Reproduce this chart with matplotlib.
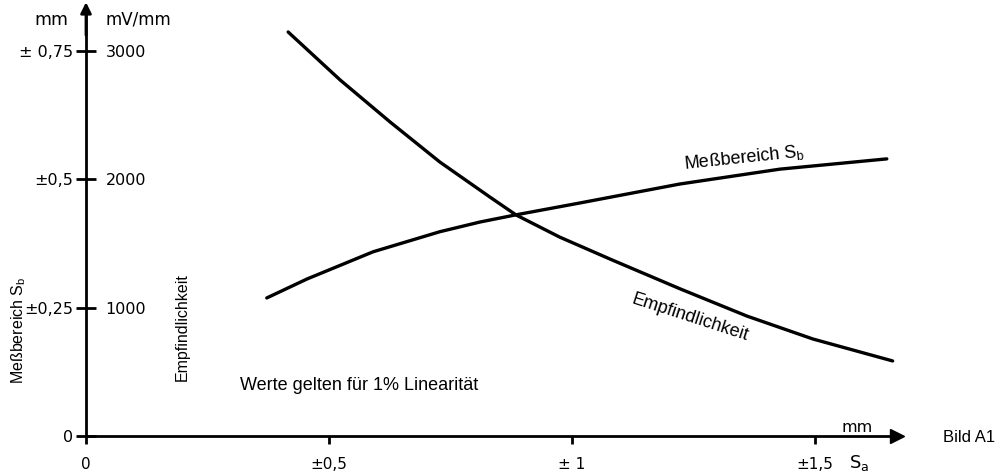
import matplotlib.pyplot as plt

# Empfindlichkeit (mV/mm) ueber Sa (mm)
emp_x = [0.416, 0.523, 0.626, 0.728, 0.831, 0.885, 0.975, 1.084, 1.222, 1.360, 1.496, 1.660]
emp_y = [3149, 2775, 2447, 2136, 1863, 1723, 1550, 1370, 1148, 935, 756, 585]

# Messbereich Sb (mm) ueber Sa (mm)
mb_x = [0.372, 0.455, 0.591, 0.728, 0.811, 0.885, 1.016, 1.222, 1.428, 1.648]
mb_y = [0.269, 0.306, 0.359, 0.398, 0.417, 0.431, 0.454, 0.491, 0.520, 0.540]

x_ticks = [0, 0.5, 1, 1.5]
x_labels = ["0", "±0,5", "± 1", "±1,5"]
mm_ticks = [0, 0.25, 0.5, 0.75]
mm_labels = ["0", "±0,25", "±0,5", "± 0,75"]
mv_ticks = [1000, 2000, 3000]
mv_labels = ["1000", "2000", "3000"]

W, H = 1000, 474
fig = plt.figure(figsize=(10, 4.74), dpi=100)
tf = "Liberation Sans"

# Achsenkasten in Pixeln: x 86..897, y 8..436
ax = fig.add_axes([86 / W, 1 - 436 / H, (897 - 86) / W, (436 - 8) / H])
ax.patch.set_visible(False)
ax2 = ax.twinx()

ymax_mv = 3336
ax.set_xlim(0, 1.669)
ax.set_ylim(0, ymax_mv * 0.25 / 1000)
ax2.set_ylim(0, ymax_mv)

for s in ["top", "right"]:
    ax.spines[s].set_visible(False)
for s in ["top", "left", "bottom", "right"]:
    ax2.spines[s].set_visible(False)
ax.spines["left"].set_linewidth(2)
ax.spines["bottom"].set_linewidth(2)

ax.set_xticks(x_ticks)
ax.set_xticklabels(x_labels)
ax.tick_params(axis="x", direction="out", length=6, width=2, pad=9, labelsize=11)
ax.set_yticks(mm_ticks)
ax.set_yticklabels(mm_labels)
ax.tick_params(axis="y", direction="inout", length=14, width=2, pad=2, labelsize=11.5)

ax2.spines["right"].set_position(("axes", 0))
ax2.yaxis.set_ticks_position("right")
ax2.set_yticks(mv_ticks)
ax2.set_yticklabels(mv_labels)
ax2.tick_params(axis="y", direction="inout", length=0, pad=14, labelsize=11.5)

# Pfeile an den Achsen
ax.plot(1, 0, ">", color="k", ms=10, transform=ax.transAxes, clip_on=False)
ax.annotate("", xy=(0, 1.02), xytext=(0, 0.93), xycoords="axes fraction",
            arrowprops=dict(arrowstyle="-|>", color="k", lw=2, mutation_scale=16),
            annotation_clip=False)

ax2.plot(emp_x, emp_y, color="k", lw=2.4, solid_capstyle="round", solid_joinstyle="round")
ax.plot(mb_x, mb_y, color="k", lw=2.4, solid_capstyle="round", solid_joinstyle="round")

ax2.text(1.354, 2170, "Meßbereich S$_\\mathregular{b}$", family=tf, fontsize=13,
         rotation=6, ha="center", va="center")
ax2.text(1.243, 925, "Empfindlichkeit", family=tf, fontsize=13,
         rotation=-18, ha="center", va="center")

fig.text(51 / W, 1 - 20 / H, "mm", fontsize=12.5, ha="center", va="center")
fig.text(138 / W, 1 - 20 / H, "mV/mm", fontsize=12, ha="center", va="center")
fig.text(19 / W, 1 - 330 / H, "Meßbereich S$_\\mathregular{b}$", family=tf, fontsize=11.5,
         rotation=90, ha="center", va="center")
fig.text(182 / W, 1 - 327 / H, "Empfindlichkeit", family=tf, fontsize=11.5,
         rotation=90, ha="center", va="center")
fig.text(240 / W, 1 - 385 / H, "Werte gelten für 1% Linearität", family=tf,
         fontsize=13, ha="left", va="center")
fig.text(857 / W, 1 - 427 / H, "mm", fontsize=11.5, ha="center", va="center")
fig.text(859 / W, 1 - 463 / H, "S$_\\mathregular{a}$", fontsize=13, ha="center", va="center")
fig.text(943 / W, 1 - 438 / H, "Bild A1", family=tf, fontsize=12, ha="left", va="center")

fig.savefig("out.png", dpi=100)
